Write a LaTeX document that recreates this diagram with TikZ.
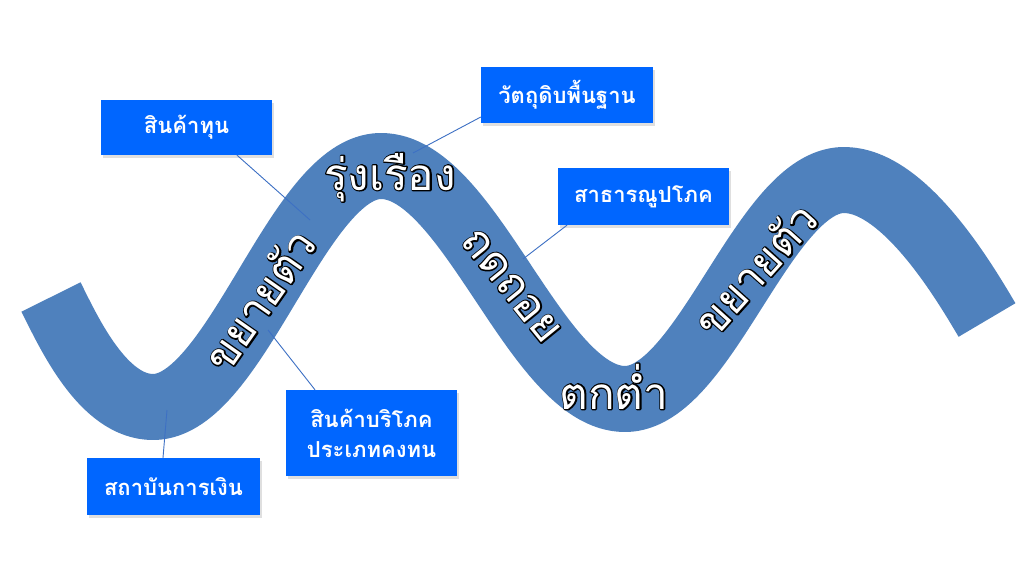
\documentclass[tikz,border=0pt]{standalone}
\usepackage{fontspec}
\newfontfamily\thai[Script=Thai]{Loma}
\usetikzlibrary{shadows}
\definecolor{bandblue}{HTML}{4F81BD}
\definecolor{boxblue}{HTML}{0066FF}
\definecolor{connblue}{HTML}{3D70C4}
% white text with a thin black outline: a stroked black copy under a white copy
\newcommand\outl[1]{\leavevmode
 \rlap{\color{black}\special{pdf:literal direct 2 Tr 2.6 w 1 j}#1\special{pdf:literal direct 0 Tr}}%
 {\color{white}#1}}
\tikzset{
  band/.style={draw=bandblue, line width=66pt, line cap=butt, line join=round},
  bandtxt/.style={inner sep=0pt, font=\thai\fontsize{44}{48}\selectfont},
  infobox/.style={fill=boxblue, text=white, inner sep=0pt, align=center,
     font=\thai\bfseries\fontsize{22}{30}\selectfont,
     drop shadow={shadow xshift=2pt, shadow yshift=-3pt, opacity=0.25}},
  conn/.style={draw=connblue, line width=0.9pt}
}
\begin{document}
\begin{tikzpicture}[x=1pt,y=-1pt]
\fill[white] (0,0) rectangle (1035,580);
\useasboundingbox (0,0) rectangle (1035,580);
% wave band
\draw[band] (51,297) .. controls (69,333) and (103,407) .. (153,407)
  .. controls (236,407) and (298,166) .. (381,166)
  .. controls (470,166) and (536,399) .. (625,399)
  .. controls (705,399) and (764,180) .. (844,180)
  .. controls (904,180) and (964,281) .. (987,320);
% connector end points on the band
\coordinate (c1) at (310,220);
\coordinate (c2) at (413,153);
\coordinate (c3) at (523,259);
\coordinate (c4) at (268,330);
\coordinate (c5) at (167,410);
% boxes
\node[infobox, minimum width=171pt, minimum height=55pt] (b1) at (186.5,127.5) {สินค้าทุน};
\node[infobox, minimum width=172pt, minimum height=56pt] (b2) at (567,95) {วัตถุดิบพื้นฐาน};
\node[infobox, minimum width=171pt, minimum height=57pt] (b3) at (643.5,196.5) {สาธารณูปโภค};
\node[infobox, minimum width=171pt, minimum height=86pt] (b4) at (371.5,433) {สินค้าบริโภค\\ประเภทคงทน};
\node[infobox, minimum width=173pt, minimum height=57pt] (b5) at (173.5,486.5) {สถาบันการเงิน};
% connectors
\draw[conn] ([xshift=50.5pt]b1.south) -- (c1);
\draw[conn] ([yshift=-22pt]b2.west) -- (c2);
\draw[conn] ([xshift=-76.5pt]b3.south) -- (c3);
\draw[conn] ([xshift=-56.5pt]b4.north) -- (c4);
\draw[conn] ([xshift=-10.5pt]b5.north) -- (c5);
% band labels
\node[bandtxt, rotate=55] (t1) at (259,300) {\outl{ขยายตัว}};
\node[bandtxt, anchor=base] (t2) at (390,190) {\outl{รุ่งเรือง}};
\node[bandtxt, rotate=-51] (t3) at (511,286) {\outl{ถดถอย}};
\node[bandtxt, anchor=base] (t4) at (614,409) {\outl{ตกต่ำ}};
\node[bandtxt, rotate=48] (t5) at (755,269) {\outl{ขยายตัว}};
\end{tikzpicture}
\end{document}
